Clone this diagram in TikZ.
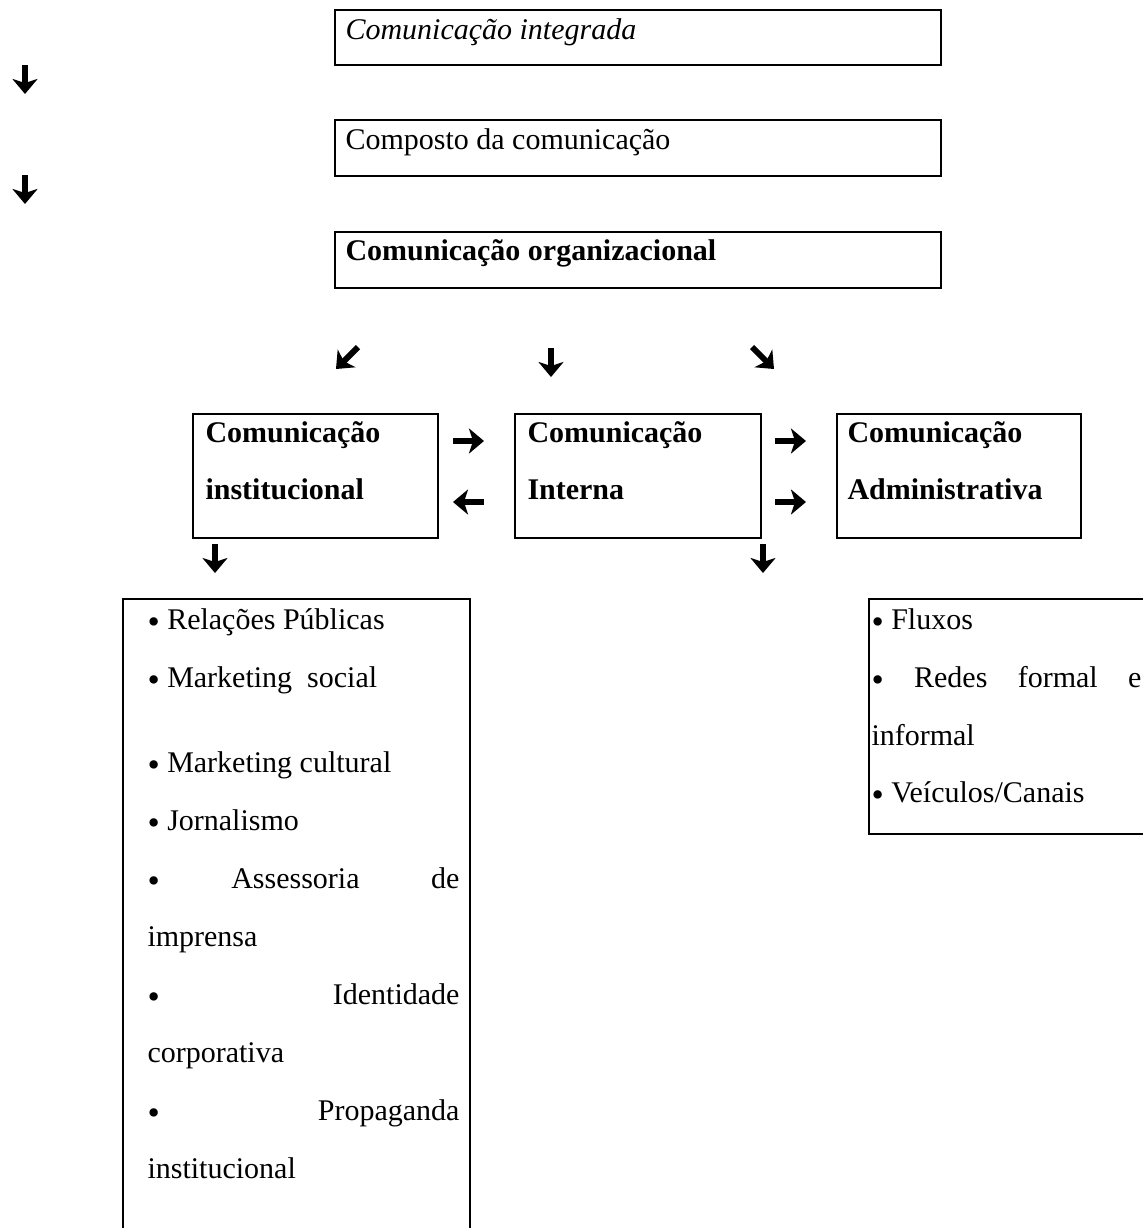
\documentclass[tikz,border=0pt]{standalone}
\usepackage{fontspec}
\setmainfont{Liberation Serif}
\usepackage{tikz}
\usetikzlibrary{positioning,arrows.meta}
\newcommand{\listbullet}{{\fontsize{14}{14}\selectfont\raisebox{-1.8pt}{\textbullet}}}
\tikzset{
  framebox/.style={draw=black, line width=0.8pt, inner sep=0pt, anchor=north west},
  txt/.style={anchor=base west, inner sep=0pt, font=\fontsize{12}{14}\selectfont},
  boldtxt/.style={txt, font=\fontsize{12}{14}\selectfont\bfseries},
  garrow/.style={line width=2.4pt, -{Stealth[width=10pt,length=6pt,inset=1.6pt]}}
}

\begin{document}
\begin{tikzpicture}[x=0.4pt, y=-0.4pt]
  \path[use as bounding box] (0,0) rectangle (1143,1228);
  \clip (0,0) rectangle (1143,1228);

  % Top column of boxes
  \node[framebox, minimum width=242.4pt, minimum height=22pt] (integ) at (334,9) {};
  \node[framebox, minimum width=242.4pt, minimum height=22.4pt] (composto) at (334,119) {};
  \node[framebox, minimum width=242.4pt, minimum height=22.4pt] (organiz) at (334,231) {};
  \node[txt, font=\fontsize{12}{14}\selectfont\itshape] (integlabel) at (345,39) {Comunicação integrada};
  \node[txt] (compostolabel) at (345,149) {Composto da comunicação};
  \node[boldtxt] (organizlabel) at (345,260) {Comunicação organizacional};

  % Left arrows
  \coordinate (la1) at (25,65);  \coordinate (lb1) at (25,94);
  \coordinate (la2) at (25,175); \coordinate (lb2) at (25,204);
  \draw[garrow] (la1) -- (lb1);
  \draw[garrow] (la2) -- (lb2);

  % Arrows below organizational box
  \coordinate (sw1) at (358,347); \coordinate (sw2) at (336,369);
  \coordinate (s1)  at (551,348); \coordinate (s2)  at (551,377);
  \coordinate (se1) at (752,347); \coordinate (se2) at (774,369);
  \draw[garrow] (sw1) -- (sw2);
  \draw[garrow] (s1) -- (s2);
  \draw[garrow] (se1) -- (se2);

  % Middle row
  \node[framebox, minimum width=98pt, minimum height=49.6pt] (inst) at (192,413) {};
  \node[framebox, minimum width=98.4pt, minimum height=49.6pt] (interna) at (514,413) {};
  \node[framebox, minimum width=97.6pt, minimum height=49.6pt] (admin) at (836,413) {};
  \node[boldtxt] (insta) at (205,442) {Comunicação};
  \node[boldtxt] (instb) at (205,499) {institucional};
  \node[boldtxt] (inta) at (527,442) {Comunicação};
  \node[boldtxt] (intb) at (527,499) {Interna};
  \node[boldtxt] (adma) at (847,442) {Comunicação};
  \node[boldtxt] (admb) at (847,499) {Administrativa};

  % Arrows between boxes
  \coordinate (r1a) at (453,441); \coordinate (r1b) at (484,441);
  \coordinate (l1a) at (484,502); \coordinate (l1b) at (453,502);
  \coordinate (r2a) at (775,441); \coordinate (r2b) at (806,441);
  \coordinate (r3a) at (775,502); \coordinate (r3b) at (806,502);
  \draw[garrow] (r1a) -- (r1b);
  \draw[garrow] (l1a) -- (l1b);
  \draw[garrow] (r2a) -- (r2b);
  \draw[garrow] (r3a) -- (r3b);

  % Arrows to the lists
  \coordinate (d1a) at (215,544); \coordinate (d1b) at (215,573);
  \coordinate (d2a) at (763,544); \coordinate (d2b) at (763,573);
  \draw[garrow] (d1a) -- (d1b);
  \draw[garrow] (d2a) -- (d2b);

  % Institutional list
  \node[framebox, minimum width=138.8pt, minimum height=260pt] (instlist) at (122,598) {};
  \node[txt] (i1) at (147,629) {\listbullet\ Relações Públicas};
  \node[txt] (i2) at (147,687) {\listbullet\ Marketing\ \ social};
  \node[txt] (i3) at (147,772) {\listbullet\ Marketing cultural};
  \node[txt] (i4) at (147,830) {\listbullet\ Jornalismo};
  \node[txt] (i5) at (147,888) {\makebox[124.8pt][s]{\listbullet\ Assessoria de}};
  \node[txt] (i6) at (147,946) {imprensa};
  \node[txt] (i7) at (147,1004) {\makebox[124.8pt][s]{\listbullet\ Identidade}};
  \node[txt] (i8) at (147,1062) {corporativa};
  \node[txt] (i9) at (147,1120) {\makebox[124.8pt][s]{\listbullet\ Propaganda}};
  \node[txt] (i10) at (147,1178) {institucional};

  % Administrative list
  \node[framebox, minimum width=120pt, minimum height=94pt] (admlist) at (868,598) {};
  \node[txt] (a1) at (871,629) {\listbullet\ Fluxos};
  \node[txt] (a2) at (871,687) {\makebox[108pt][s]{\listbullet\ Redes formal e}};
  \node[txt] (a3) at (871,745) {informal};
  \node[txt] (a4) at (871,802) {\listbullet\ Veículos/Canais};
\end{tikzpicture}
\end{document}
